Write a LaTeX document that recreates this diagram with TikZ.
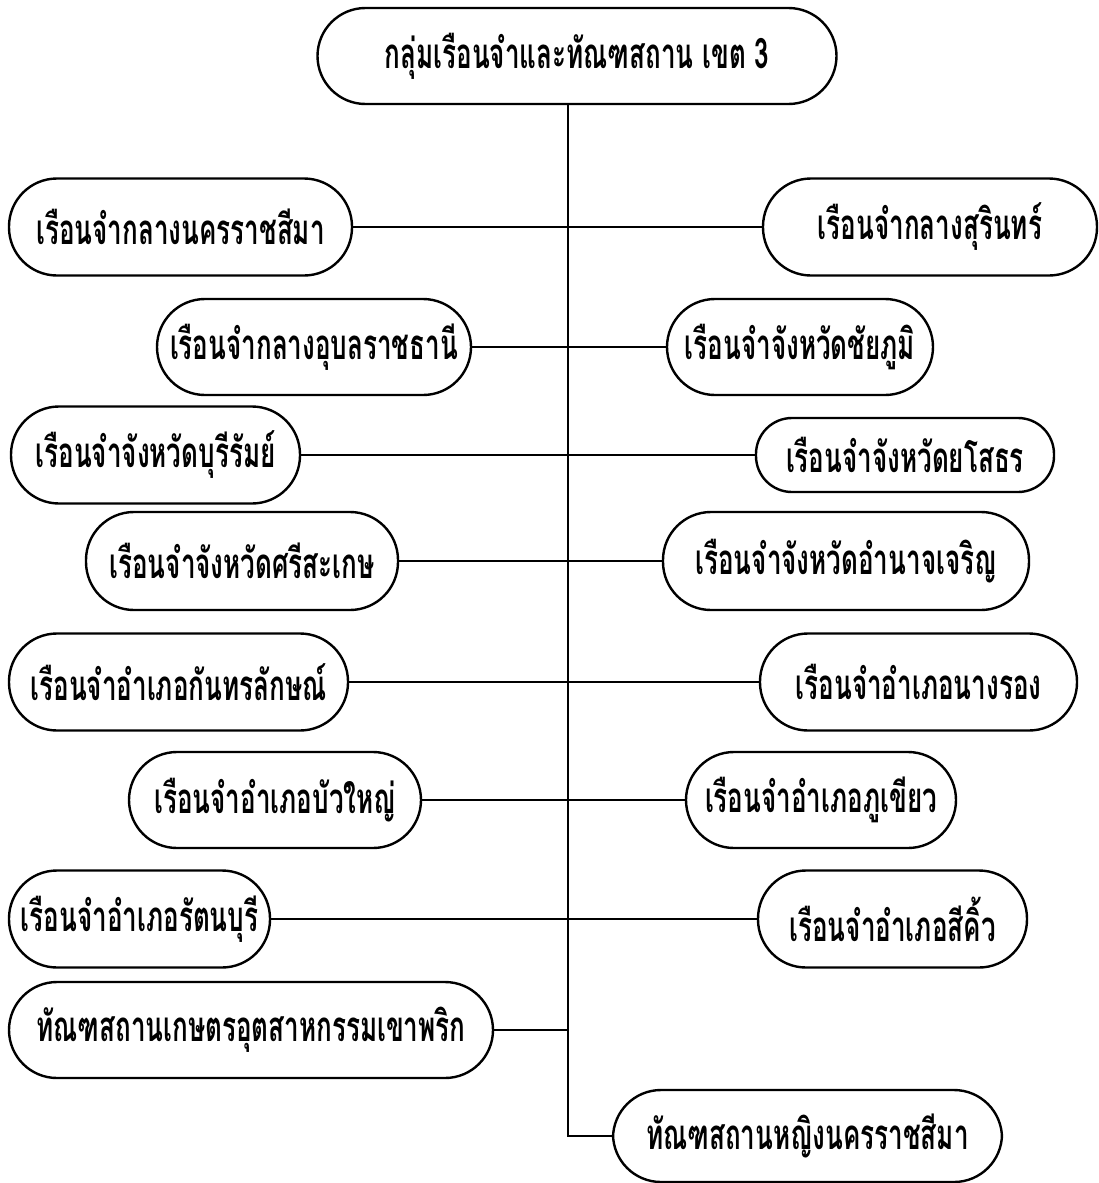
\documentclass[tikz,border=0pt]{standalone}
\usepackage{fontspec}
\newfontfamily\thaifont[Script=Thai,FakeStretch=0.62]{Loma}
\usepackage{tikz}

\tikzset{
	unit/.style={draw, line width=1.2pt, rounded corners=24pt, inner sep=0pt, align=center, font=\thaifont\fontsize{21pt}{24pt}\selectfont\bfseries},
	wh/.style 2 args={minimum width=#1*0.5pt, minimum height=#2*0.5pt},
	link/.style={line width=1pt}
}

\begin{document}
\begin{tikzpicture}[x=0.5pt,y=-0.5pt]
			\useasboundingbox (0,0) rectangle (1098,1183);

			\node[unit,wh={519}{96}] (top) at (577,56) {กลุ่มเรือนจำและทัณฑสถาน เขต 3};
			\coordinate (sp) at (568,1136);

			\node[unit,wh={343}{97}] (l1) at (180.5,227) {เรือนจำกลางนครราชสีมา};
			\node[unit,wh={334}{97}] (r1) at (930,227) {เรือนจำกลางสุรินทร์};
			\node[unit,wh={314}{96}] (l2) at (314,347) {เรือนจำกลางอุบลราชธานี};
			\node[unit,wh={266}{96}] (r2) at (800,347) {เรือนจำจังหวัดชัยภูมิ};
			\node[unit,wh={289}{97}] (l3) at (155.5,455) {เรือนจำจังหวัดบุรีรัมย์};
			\node[unit,wh={298}{74},rounded corners=18pt] (r3) at (905,455) {เรือนจำจังหวัดยโสธร};
			\node[unit,wh={312}{98}] (l4) at (242,561) {เรือนจำจังหวัดศรีสะเกษ};
			\node[unit,wh={366}{98}] (r4) at (846,561) {เรือนจำจังหวัดอำนาจเจริญ};
			\node[unit,wh={339}{97}] (l5) at (178.5,682) {เรือนจำอำเภอกันทรลักษณ์};
			\node[unit,wh={317}{97}] (r5) at (918.5,682) {เรือนจำอำเภอนางรอง};
			\node[unit,wh={292}{96}] (l6) at (275,800) {เรือนจำอำเภอบัวใหญ่};
			\node[unit,wh={270}{96}] (r6) at (821,800) {เรือนจำอำเภอภูเขียว};
			\node[unit,wh={261}{97}] (l7) at (139.5,919) {เรือนจำอำเภอรัตนบุรี};
			\node[unit,wh={269}{97}] (r7) at (892.5,919) {เรือนจำอำเภอสีคิ้ว};
			\node[unit,wh={484}{96}] (l8) at (251,1030) {ทัณฑสถานเกษตรอุตสาหกรรมเขาพริก};
			\node[unit,wh={389}{92}] (r8) at (807.5,1136) {ทัณฑสถานหญิงนครราชสีมา};

			\draw[link] (top.south -| sp) -- (sp) -- (r8);
			\draw[link] (l1) -- (r1);
			\draw[link] (l2) -- (r2);
			\draw[link] (l3) -- (r3);
			\draw[link] (l4) -- (r4);
			\draw[link] (l5) -- (r5);
			\draw[link] (l6) -- (r6);
			\draw[link] (l7) -- (r7);
			\draw[link] (l8) -- (l8 -| sp);
		  \end{tikzpicture}
\end{document}
